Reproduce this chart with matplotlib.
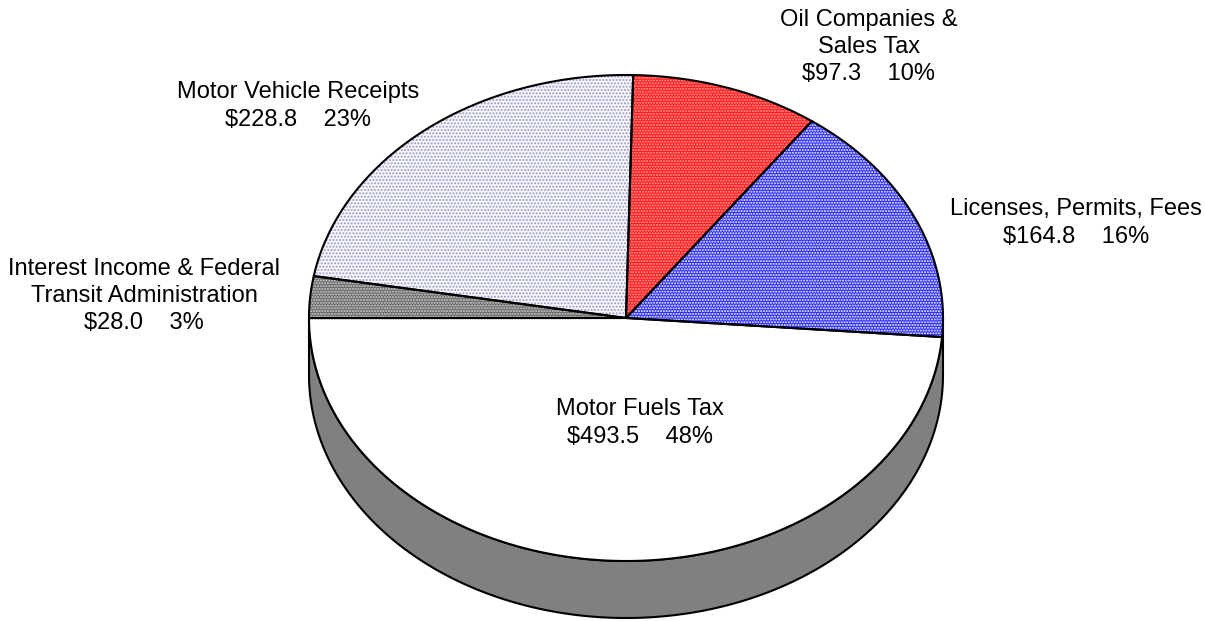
import numpy as np
import matplotlib
matplotlib.use("Agg")
import matplotlib.pyplot as plt
from matplotlib.patches import Polygon

# revenue sources, in drawing order (counter-clockwise from the right edge)
sources = ["Licenses, Permits, Fees", "Oil Companies &\nSales Tax", "Motor Vehicle Receipts",
           "Interest Income & Federal\nTransit Administration", "Motor Fuels Tax"]
amounts = [164.8, 97.3, 228.8, 28.0, 493.5]
shares = [16, 10, 23, 3, 48]

# fill colour, dot colour, hatch (None = plain fill)
styles = [
    ("#2828ff", "white", "......"),
    ("#ff1a1a", "#ffa0a0", "......"),
    ("#f8f8fc", "#9a9ac8", "....."),
    ("#6a6a6a", "#d0d0d0", "......"),
    ("white", None, None),
]

# label anchor (pixel coords of the text centre)
label_pos = [(1076, 223), (869, 47), (298, 106), (144, 296), (640, 423)]

plt.rcParams["font.family"] = ["Liberation Sans", "DejaVu Sans"]

W, H = 1205, 621
fig = plt.figure(figsize=(W / 100, H / 100), dpi=100)
ax = fig.add_axes([0, 0, 1, 1])
ax.set_xlim(0, W)
ax.set_ylim(H, 0)
ax.axis("off")

cx, cy, rx, ry, depth = 626, 318, 317, 243, 57
start = -4.5


def arc(t0, t1, n=200, dy=0.0):
    t = np.radians(np.linspace(t0, t1, n))
    return np.column_stack([cx + rx * np.cos(t), cy - ry * np.sin(t) + dy])


# side wall of the front half
front = arc(180, 360)
side = np.vstack([front, arc(360, 180, dy=depth)])
ax.add_patch(Polygon(side, closed=True, facecolor="#808080", edgecolor="black", lw=1.5, zorder=1))

total = sum(amounts)
angles = start + 360 * np.concatenate([[0], np.cumsum(amounts)]) / total

for i, (name, amt, pct) in enumerate(zip(sources, amounts, shares)):
    pts = np.vstack([[cx, cy], arc(angles[i], angles[i + 1])])
    fc, dc, hatch = styles[i]
    ax.add_patch(Polygon(pts, closed=True, facecolor=fc, edgecolor="none", lw=0, zorder=2))
    if hatch:
        ax.add_patch(Polygon(pts, closed=True, facecolor="none", edgecolor=dc, lw=0,
                             hatch=hatch, zorder=3))
    ax.add_patch(Polygon(pts, closed=True, facecolor="none", edgecolor="black", lw=1.5,
                         joinstyle="round", zorder=4))

    x, y = label_pos[i]
    ax.text(x, y, f"{name}\n${amt:.1f}    {pct}%", ha="center", va="center",
            fontsize=17, linespacing=1.3, color="black", zorder=5)

fig.savefig("out.png", dpi=100)
